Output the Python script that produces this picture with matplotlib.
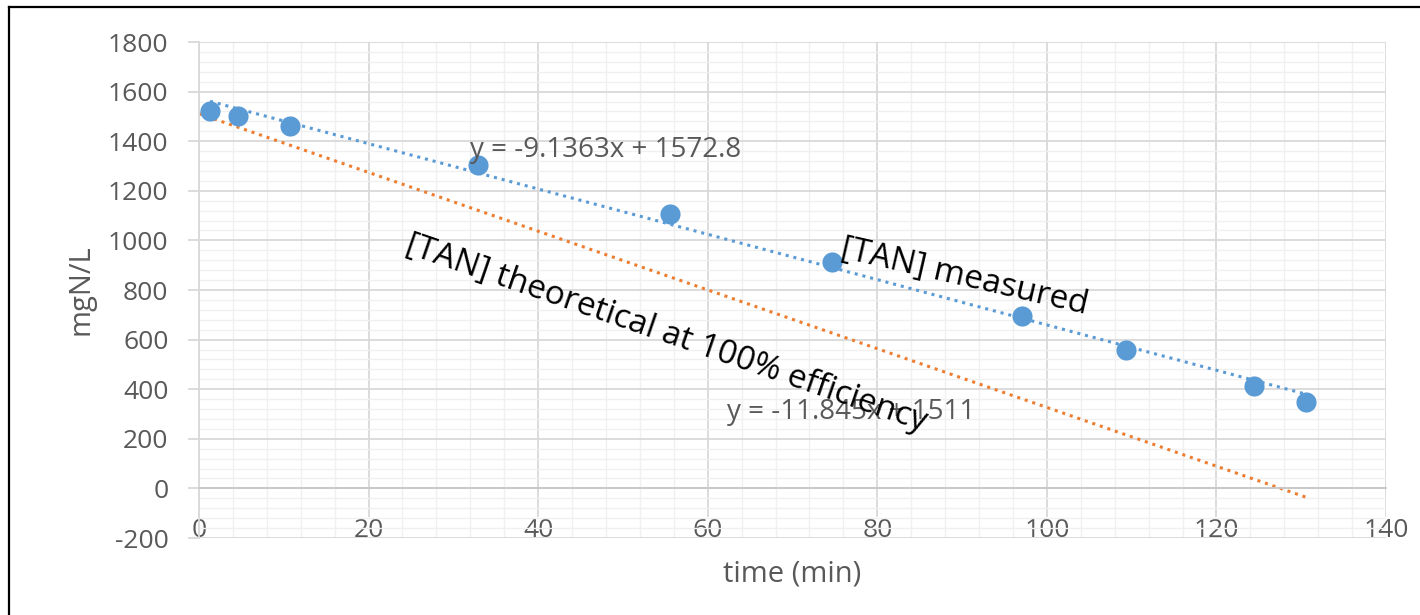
"""TAN removal: measured vs theoretical (100 % efficiency), Excel-style scatter."""

import matplotlib
matplotlib.use("Agg")
import matplotlib.pyplot as plt
from matplotlib.lines import Line2D
from matplotlib.ticker import MultipleLocator
import numpy as np

plt.rcParams["font.family"] = ["Open Sans", "DejaVu Sans"]
plt.rcParams["axes.unicode_minus"] = False

# ----- data -----
time_min = [1.3, 4.6, 10.7, 32.9, 55.5, 74.7, 97.1, 109.3, 124.4, 130.6]
tan_measured = [1523, 1500, 1460, 1306, 1105, 912, 695, 559, 414, 350]

# trendline equations as printed on the chart
meas_slope, meas_icpt = -9.1363, 1572.8
theo_slope, theo_icpt = -11.845, 1511
theo_range = [0, 130.6]

x_ticks = [0, 20, 40, 60, 80, 100, 120, 140]
y_ticks = [-200, 0, 200, 400, 600, 800, 1000, 1200, 1400, 1600, 1800]

BLUE = "#5b9bd5"
ORANGE = "#ed7d31"
GRAY = "#595959"
MAJOR = "#d9d9d9"
MINOR = "#f0f0f0"

fig = plt.figure(figsize=(14.2, 6.15), dpi=100)
ax = fig.add_axes([199 / 1420, 1 - 538 / 615, (1386 - 199) / 1420, (538 - 42) / 615])

ax.set_xlim(0, 140)
ax.set_ylim(-200, 1800)
ax.xaxis.set_minor_locator(MultipleLocator(4))
ax.yaxis.set_minor_locator(MultipleLocator(40))
ax.set_xticks(x_ticks)
ax.set_yticks(y_ticks)
ax.grid(which="minor", color=MINOR, lw=1.0, zorder=0)
ax.grid(which="major", color=MAJOR, lw=1.3, zorder=0)
ax.set_axisbelow(True)

for side in ("top", "right"):
    ax.spines[side].set_visible(False)
ax.spines["left"].set_color(MAJOR)
ax.spines["left"].set_linewidth(1.3)
ax.spines["bottom"].set_position(("data", 0))
ax.spines["bottom"].set_color("#c8c8c8")
ax.spines["bottom"].set_linewidth(1.3)

ax.tick_params(axis="y", which="major", length=8, width=1.3, color=MAJOR,
               labelsize=19, labelcolor=GRAY, pad=14)
ax.tick_params(axis="x", which="major", length=0, labelsize=19,
               labelcolor=GRAY, pad=21)
ax.tick_params(which="minor", length=0)

ax.set_ylabel("mgN/L", fontsize=21, color=GRAY)
ax.yaxis.set_label_coords(-0.087, 0.50)
ax.set_xlabel("time (min)", fontsize=21, color=GRAY)
ax.xaxis.set_label_coords(0.50, -0.043)

# theoretical line (orange dotted)
tx = np.array(theo_range)
ax.plot(tx, theo_slope * tx + theo_icpt, color=ORANGE, lw=2.2,
        ls=(0, (1, 1.6)), dash_capstyle="butt", zorder=2)

# measured trendline (blue dotted) over the data range
mx = np.array([min(time_min), max(time_min)])
ax.plot(mx, meas_slope * mx + meas_icpt, color=BLUE, lw=2.2,
        ls=(0, (1, 1.6)), dash_capstyle="butt", zorder=2)

ax.plot(time_min, tan_measured, "o", color=BLUE, ms=14.5, mec="none", zorder=3)

ax.text(32.0, 1363, "y = -9.1363x + 1572.8", fontsize=20, color=GRAY,
        ha="left", va="center", zorder=4)
ax.text(62.3, 309, "y = -11.845x + 1511", fontsize=20, color=GRAY,
        ha="left", va="center", zorder=4)
ax.text(90.3, 850, "[TAN] measured", fontsize=24, color="black",
        rotation=-13, rotation_mode="anchor", ha="center", va="center", zorder=5)
ax.text(55.1, 625, "[TAN] theoretical at 100% efficiency", fontsize=24,
        color="black", rotation=-19, rotation_mode="anchor",
        ha="center", va="center", zorder=5)

# outer frame (left and top edges of the screenshot border)
fx, fy = 9 / 1420, 1 - 7 / 615
fig.add_artist(Line2D([fx, fx], [0, fy], transform=fig.transFigure, color="black", lw=1.6))
fig.add_artist(Line2D([fx, 1], [fy, fy], transform=fig.transFigure, color="black", lw=1.6))

# x tick labels sit on top of the grid with a white backing, as in Excel
fig.canvas.draw()
for lbl in ax.get_xticklabels():
    lbl.set_bbox(dict(facecolor="white", edgecolor="none", pad=0.3))

fig.savefig("out.png", dpi=100)
